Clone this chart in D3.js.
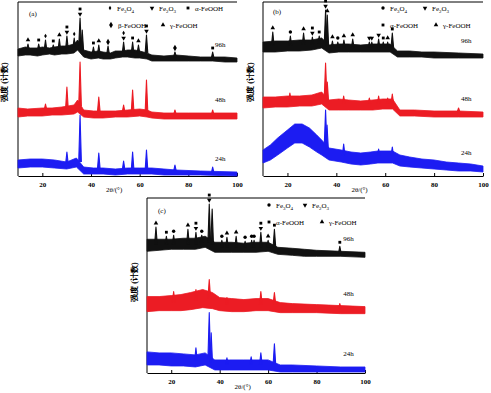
<!DOCTYPE html>
<html>
<head>
<meta charset="utf-8">
<script src="https://cdn.jsdelivr.net/npm/d3@7"></script>
<style>
  body { margin: 0; background: #fff; }
  text { font-family: "Liberation Serif", "Times New Roman", serif; }
</style>
</head>
<body>
<svg id="chart" width="491" height="393"></svg>
<script>
// ---- data ----
// noise envelope: [2theta, low, high]  /  peaks: [2theta, base, top, phase marks]
// marks: o = Fe3O4, v = Fe2O3, s = a-FeOOH, b = b-FeOOH, t = g-FeOOH
const ticks2Theta = [20, 40, 60, 80, 100];
const hours = ["96h", "48h", "24h"];

const aEnv96 = [[10,120,127],[13,121,129],[15,121,128],[18,120,128],[20,121,129],[23,122,128],[25,121,129],[28,122,130],[30,122,130],[33,123,132],[34.5,126,136],[37,119,126],[40,117,124],[43,118,125],[45,117,124],[48,117,123],[50,118,125],[53,119,125],[55,119,126],[58,118,126],[60,118,125],[63,117,123],[65,115,121],[70,115,120],[75,115,121],[80,115,120],[85,115,119],[90,115,119],[95,114,119],[100,114,118]];
const aPk96 = [[14.1,126,132,"t"],[18.5,126,132,"s"],[21.3,126,136,"o"],[24.5,126,131,"s"],[27,126,137,"t"],[30.1,127,140,"vs"],[33.1,128,138,"o"],[35.5,130,158,"vs"],[36.4,126,146,""],[41,122,129,"s"],[43.2,122,131,"t"],[47,122,130,"b"],[53.4,123,134,"vo"],[57.1,123,134,"s"],[59.5,123,131,"t"],[62.8,123,141,"vs"],[74.5,119,124,"b"],[90,118,124,"s"]];
const aEnv48 = [[10,59,68],[14,60,67],[20,60,68],[24,61,68],[28,61,69],[33,62,71],[34.5,64,76],[37,59,66],[41,58,65],[45,58,65],[50,59,65],[55,59,66],[60,60,67],[63,59,66],[65,58,64],[70,57,63],[80,57,63],[90,57,63],[100,57,63]];
const aPk48 = [[21.3,66,72],[30.1,67,89],[35.5,70,114],[43.2,64,79],[53.4,64,71],[57.1,64,86],[62.8,64,96],[74.5,61,66],[90,61,66]];
const aEnv24 = [[10,8,16],[15,9,17],[20,9,17],[25,8,16],[30,7,14],[34,9,18],[37,2,9],[41,2,8],[45,2,8],[50,1,7],[55,2,8],[60,2,8],[65,2,8],[70,1,7],[75,1,6],[85,1,5],[100,0,4]];
const aPk24 = [[30.1,12,24],[35.5,14,61],[43.2,7,23],[53.4,6,15],[57.1,6,24],[62.8,6,26],[74.5,5,11],[90,3,9]];

const bEnv96 = [[10,124,134],[15,124,135],[20,125,135],[25,125,136],[30,126,136],[34,128,138],[37,123,131],[41,124,132],[45,124,132],[50,124,131],[55,124,132],[62,124,132],[65,119,125],[70,119,125],[75,119,124],[80,118,124],[90,118,123],[100,118,122]];
const bPk96 = [[14,130,144,"t"],[21.2,130,140,"o"],[26.6,131,143,"t"],[30.2,131,139,"vs"],[33,132,140,"s"],[35.6,132,166,"vs"],[36.3,130,161,"t"],[38.4,128,135,"t"],[40.6,128,134,"o"],[43.1,128,136,"t"],[46.7,128,137,"t"],[53.5,128,134,"v"],[54.5,128,134,"v"],[57.3,128,137,"v"],[59.2,128,134,"s"],[61,128,134,"t"],[62.9,128,143,"s"]];
const bEnv48 = [[10,68,79],[15,69,79],[20,69,80],[25,70,80],[30,70,81],[34,72,84],[37,66,76],[41,66,77],[45,66,76],[50,66,75],[55,66,76],[59,67,77],[63,67,77],[66,60,66],[72,60,66],[80,59,65],[90,59,65],[100,59,64]];
const bPk48 = [[21,74,83],[35.6,78,113],[36.3,74,94],[43,72,80],[53.5,72,78],[57.3,72,80],[61,72,78],[62.9,72,82],[90,64,68]];
const bEnv24 = [[10,13,26],[13,16,31],[16,21,38],[20,28,46],[23,33,52],[26,33,52],[29,29,48],[32,24,41],[34,21,36],[37,16,28],[42,14,26],[46,12,24],[50,11,23],[54,12,24],[57,13,25],[63,13,25],[66,10,21],[70,9,19],[75,8,17],[80,7,16],[85,6,14],[90,5,13],[95,5,12],[100,4,10]];
const bPk24 = [[35.6,30,66],[36.2,26,51],[43,20,32],[57.3,20,27],[62.9,20,29]];

const cEnv96 = [[10,121,133],[15,122,133],[20,123,133],[25,123,134],[30,123,134],[34,125,136],[38,120,130],[41,120,130],[45,120,130],[50,120,129],[55,120,130],[60,121,130],[64,118,125],[70,117,124],[75,116,123],[80,116,122],[90,116,121],[100,115,120]];
const cPk96 = [[13.7,128,145,"t"],[18,128,136,"s"],[21,128,137,"o"],[26.9,128,143,"t"],[30.2,128,140,"vs"],[32.6,130,137,"o"],[35.7,130,168,"vs"],[36.9,128,163,""],[40.9,125,132,"o"],[43,125,135,"t"],[46.8,125,136,"t"],[50.5,125,131,"o"],[53.2,125,132,"o"],[54.2,125,132,"o"],[57,125,140,"vs"],[60,125,132,"t"],[62.6,125,143,"s"],[89.6,119,126,"s"]];
const cEnv48 = [[10,61,76],[15,62,76],[20,62,77],[24,62,78],[28,63,80],[33,65,83],[37,64,80],[40,62,75],[45,61,74],[50,61,73],[55,62,74],[60,62,74],[65,60,70],[70,60,69],[80,60,68],[90,59,67],[100,59,66]];
const cPk48 = [[21,70,81],[30.2,72,83],[35.7,74,93],[43,68,75],[57,68,81],[62.6,68,80],[89.6,64,69]];
const cEnv24 = [[10,8,21],[15,8,20],[20,7,20],[25,7,19],[30,6,18],[34,8,20],[38,3,13],[44,3,13],[50,3,13],[55,3,13],[60,3,13],[65,1,8],[70,1,8],[80,1,7],[90,1,6],[100,1,6]];
const cPk24 = [[30.2,12,25],[35.7,14,60],[36.5,10,40],[43,8,15],[53,8,16],[57,8,20],[62.6,8,29]];

const aLegend = [["o","Fe3O4"],["v","Fe2O3"],["s","α-FeOOH"],["b","β-FeOOH"],["t","γ-FeOOH"]];
const bLegend = [["o","Fe3O4"],["v","Fe2O3"],["s","α-FeOOH"],["t","γ-FeOOH"]];
const cLegend = [["o","Fe3O4"],["v","Fe2O3"],["s","α-FeOOH"],["t","γ-FeOOH"]];

const colors = ["#111111", "#ec1c24", "#1c1cf2"];

// ---- layout ----
const panels = [
    {tag: "(a)", x0: 18, x1: 237, top: 2, bottom: 176, env: [aEnv96, aEnv48, aEnv24], pk: [aPk96, aPk48, aPk24],
     legend: aLegend, legPos: [[110,8],[152,8],[188,8],[111,25],[163,25]], circle: false, tagPos: [29,16], ylab: [7,82]},
    {tag: "(b)", x0: 263, x1: 483, top: 2, bottom: 176, env: [bEnv96, bEnv48, bEnv24], pk: [bPk96, bPk48, bPk24],
     legend: bLegend, legPos: [[383,8],[425,8],[383,25],[436,25]], circle: true, tagPos: [273,14], ylab: [253,82]},
    {tag: "(c)", x0: 147, x1: 365, top: 198, bottom: 373, env: [cEnv96, cEnv48, cEnv24], pk: [cPk96, cPk48, cPk24],
     legend: cLegend, legPos: [[269,205],[305,205],[269,222],[322,222]], circle: true, tagPos: [158,213], ylab: [137,282]}
];

const svg = d3.select("#chart");

function symbolFor(code, circle) {
    if (code === "o") return circle ? d3.symbol(d3.symbolCircle, 9)() : d3.symbol(d3.symbolDiamond, 6)();
    if (code === "v") return d3.symbol(d3.symbolTriangle, 9)();
    if (code === "s") return d3.symbol(d3.symbolSquare, 8)();
    if (code === "b") return d3.symbol(d3.symbolDiamond, 12)();
    return d3.symbol(d3.symbolTriangle, 9)();
}

// writes "Fe3O4" with subscript digits
function chemText(sel, label) {
    let shifted = false;
    label.split(/(\d)/).forEach(part => {
        if (part === "") return;
        if (/\d/.test(part)) {
            sel.append("tspan").attr("font-size", "5px").attr("dy", 2).text(part);
            shifted = true;
        } else {
            sel.append("tspan").attr("dy", shifted ? -2 : 0).text(part);
            shifted = false;
        }
    });
}

panels.forEach(p => {
    let g = svg.append("g");
    let x = d3.scaleLinear().domain([10, 100]).range([p.x0, p.x1]);
    let y = d3.scaleLinear().domain([0, 174]).range([p.bottom, p.top]);

    // frame: top line and left axis
    g.append("line").attr("x1", p.x0).attr("x2", p.x1).attr("y1", p.top).attr("y2", p.top)
        .attr("stroke", "#000").attr("stroke-width", 1);
    g.append("line").attr("x1", p.x0).attr("x2", p.x0).attr("y1", p.top).attr("y2", p.bottom)
        .attr("stroke", "#000").attr("stroke-width", 1);

    let xAxis = d3.axisBottom(x).tickValues(ticks2Theta).tickSize(-3).tickSizeOuter(0).tickPadding(6);
    let ax = g.append("g").attr("transform", "translate(0," + p.bottom + ")").call(xAxis);
    ax.select(".domain").attr("stroke-width", 1.2);
    ax.selectAll("text").attr("font-size", "7px").attr("font-weight", "bold")
        .attr("font-family", "'Liberation Serif', serif");

    // traces
    p.env.forEach((env, i) => {
        let area = d3.area().x(d => x(d[0])).y0(d => y(d[1])).y1(d => y(d[2]));
        g.append("path").datum(env).attr("d", area)
            .attr("fill", colors[i]).attr("stroke", colors[i]).attr("stroke-width", 0.8);

        let line = d3.line().x(d => x(d[0])).y(d => y(d[1]));
        p.pk[i].forEach(pk => {
            let tri = [[pk[0] - 0.55, pk[1]], [pk[0], pk[2]], [pk[0] + 0.55, pk[1]]];
            g.append("path").datum(tri).attr("d", line)
                .attr("fill", colors[i]).attr("stroke", colors[i]).attr("stroke-width", 1.1)
                .attr("stroke-linejoin", "round");
        });

        // series label
        let last = env[env.length - 1];
        g.append("text").attr("x", x(91)).attr("y", y(last[2]) - 11)
            .attr("font-size", "7px").text(hours[i]);
    });

    // phase markers above the 96h peaks
    p.pk[0].forEach(pk => {
        pk[3].split("").forEach((code, j) => {
            let yy = y(pk[2]) - 4 - j * 5;
            g.append("path").attr("d", symbolFor(code, p.circle))
                .attr("transform", "translate(" + x(pk[0]) + "," + yy + ")" + (code === "v" ? " rotate(180)" : ""))
                .attr("fill", "#000");
        });
    });

    // legend
    p.legend.forEach((d, j) => {
        let pos = p.legPos[j];
        g.append("path").attr("d", symbolFor(d[0], p.circle))
            .attr("transform", "translate(" + pos[0] + "," + pos[1] + ")" + (d[0] === "v" ? " rotate(180)" : ""))
            .attr("fill", "#000");
        let t = g.append("text").attr("x", pos[0] + 7).attr("y", pos[1] + 2.5).attr("font-size", "7px");
        chemText(t, d[1]);
    });

    g.append("text").attr("x", p.tagPos[0]).attr("y", p.tagPos[1]).attr("font-size", "7px").text(p.tag);

    // axis titles
    g.append("text").attr("x", x(49.5)).attr("y", p.bottom + 16)
        .attr("text-anchor", "middle").attr("font-size", "7px").text("2θ/(°)");
    g.append("text").attr("transform", "translate(" + p.ylab[0] + "," + p.ylab[1] + ") rotate(-90)")
        .attr("text-anchor", "middle").attr("font-size", "8px").attr("font-weight", "bold")
        .attr("font-family", "'Noto Sans CJK SC', sans-serif").text("强度 (计数)");
});
</script>
</body>
</html>
